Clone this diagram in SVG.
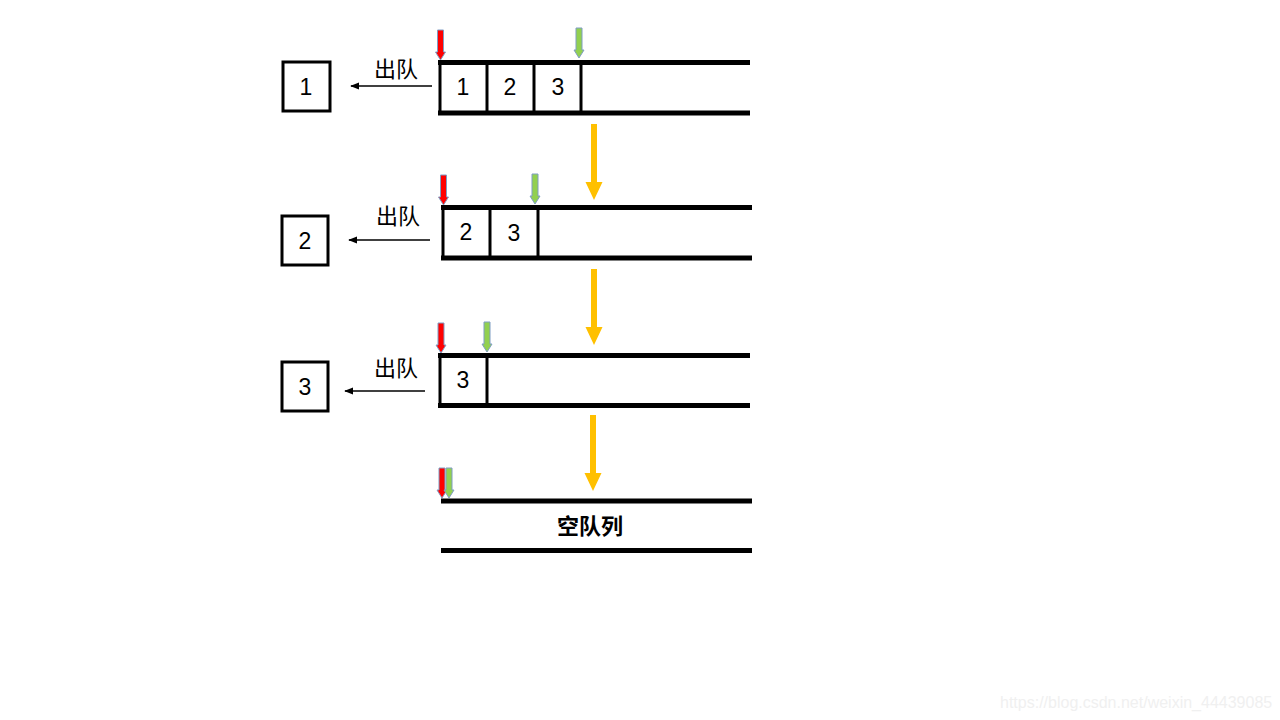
<svg xmlns="http://www.w3.org/2000/svg" width="1280" height="720" viewBox="0 0 1280 720">
<defs>
<style>
.rail{stroke:#000;stroke-width:5;fill:none}
.cell{stroke:#000;stroke-width:3;fill:none}
.box{stroke:#000;stroke-width:3;fill:#fff}
.num{font-family:"Liberation Sans","Noto Sans CJK SC",sans-serif;font-size:23px;fill:#000;text-anchor:middle}
.lbl{font-family:"Noto Sans CJK SC",sans-serif;font-size:22px;fill:#000;text-anchor:middle}
.empty{font-family:"Noto Sans CJK SC",sans-serif;font-size:22px;font-weight:bold;fill:#000;text-anchor:middle}
.deq{stroke:#000;stroke-width:1.5;fill:none}
.red{fill:#FF0000;stroke:#7F9DC4;stroke-width:1}
.green{fill:#92D050;stroke:#7F9DC4;stroke-width:1}
.yel{fill:#FFC000}
.wm{font-family:"Liberation Sans",Arial,sans-serif;font-size:16px;fill:#f0f0f0}
</style>
<marker id="ah" viewBox="0 0 10 10" refX="9" refY="5" markerWidth="6" markerHeight="6" orient="auto">
<path d="M0,1 L10,5 L0,9 z" fill="#000"/>
</marker>
<path id="ptr" d="M-3,0 L3,0 L3,22 L5,22 L0,30 L-5,22 L-3,22 z"/>
<path id="yarrow" d="M-3,0 L3,0 L3,58 L8.5,58 L0,76 L-8.5,58 L-3,58 z"/>
</defs>

<g id="row1">
<line class="rail" x1="438" y1="62.5" x2="750" y2="62.5"/>
<line class="rail" x1="438" y1="113" x2="750" y2="113"/>
<line class="cell" x1="440" y1="62" x2="440" y2="113"/>
<line class="cell" x1="487" y1="62" x2="487" y2="113"/>
<line class="cell" x1="534" y1="62" x2="534" y2="113"/>
<line class="cell" x1="581" y1="62" x2="581" y2="113"/>
<text class="num" x="463" y="95">1</text>
<text class="num" x="510" y="95">2</text>
<text class="num" x="558" y="95">3</text>
</g>
<g id="out1">
<rect class="box" x="283" y="62" width="47" height="49"/>
<text class="num" x="306" y="95">1</text>
</g>
<g id="row2">
<line class="rail" x1="441" y1="207.5" x2="752" y2="207.5"/>
<line class="rail" x1="441" y1="258" x2="752" y2="258"/>
<line class="cell" x1="443" y1="207" x2="443" y2="258"/>
<line class="cell" x1="490" y1="207" x2="490" y2="258"/>
<line class="cell" x1="538" y1="207" x2="538" y2="258"/>
<text class="num" x="466" y="240">2</text>
<text class="num" x="514" y="241">3</text>
</g>
<g id="out2">
<rect class="box" x="282" y="216" width="46" height="49"/>
<text class="num" x="305" y="249">2</text>
</g>
<g id="row3">
<line class="rail" x1="438" y1="355.5" x2="750" y2="355.5"/>
<line class="rail" x1="438" y1="405.5" x2="750" y2="405.5"/>
<line class="cell" x1="440" y1="355" x2="440" y2="405"/>
<line class="cell" x1="487" y1="355" x2="487" y2="405"/>
<text class="num" x="463" y="388">3</text>
</g>
<g id="out3">
<rect class="box" x="282" y="362" width="46" height="49"/>
<text class="num" x="305" y="395">3</text>
</g>
<g id="row4">
<line class="rail" x1="441" y1="501" x2="752" y2="501"/>
<line class="rail" x1="441" y1="550.5" x2="752" y2="550.5"/>
<text class="empty" x="590" y="534">空队列</text>
</g>

<g id="connectors">
<line class="deq" x1="432" y1="86" x2="351" y2="86" marker-end="url(#ah)"/>
<text class="lbl" x="396" y="77">出队</text>
<line class="deq" x1="430" y1="240" x2="349" y2="240" marker-end="url(#ah)"/>
<text class="lbl" x="398" y="224">出队</text>
<line class="deq" x1="425" y1="391" x2="345" y2="391" marker-end="url(#ah)"/>
<text class="lbl" x="396" y="376">出队</text>

<use href="#yarrow" class="yel" x="594" y="124"/>
<use href="#yarrow" class="yel" x="594" y="269"/>
<use href="#yarrow" class="yel" x="593" y="415"/>

<use href="#ptr" class="red" x="440.5" y="30"/>
<use href="#ptr" class="green" x="579" y="28"/>
<use href="#ptr" class="red" x="443.5" y="175"/>
<use href="#ptr" class="green" x="535" y="174"/>
<use href="#ptr" class="red" x="441" y="323"/>
<use href="#ptr" class="green" x="487" y="322"/>
<use href="#ptr" class="red" x="442" y="468"/>
<use href="#ptr" class="green" x="449" y="468"/>
</g>

<text class="wm" x="1000" y="708">https://blog.csdn.net/weixin_44439085</text>
</svg>
